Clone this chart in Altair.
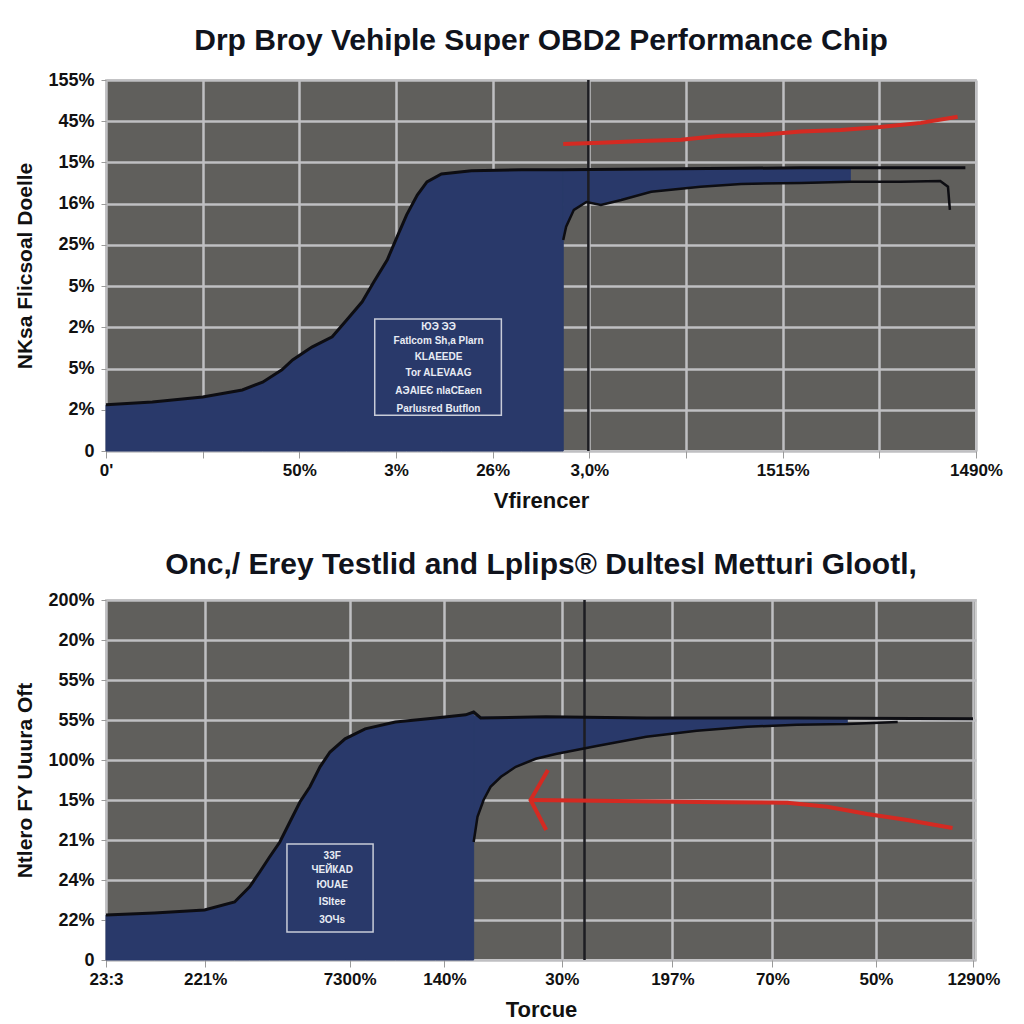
import json
import altair as alt
import pandas as pd

BLUE = "#29396a"
GREY = "#605f5c"
RED = "#d42a22"
GRID = "#bfbfc2"
FONT = "'Liberation Sans', Arial, sans-serif"

# ---------------- top panel data ----------------
top_title = "Drp Broy Vehiple Super OBD2 Performance Chip"
top_ytitle = "NKsa Flicsoal Doelle"
top_xtitle = "Vfirencer"
top_ylabels = ["0", "2%", "5%", "2%", "5%", "25%", "16%", "15%", "45%", "155%"]
top_xvals = [0, 1, 2, 3, 4, 5, 6, 7, 8, 9]
top_xlabels = ["0'", "", "50%", "3%", "26%", "3,0%", "", "1515%", "", "1490%"]

top_up_x = [0, 0.48, 1.0, 1.41, 1.62, 1.82, 1.93, 2.13, 2.34, 2.49, 2.65, 2.77, 2.91,
            3.01, 3.11, 3.22, 3.32, 3.47, 3.78, 4.3, 4.71, 5.64, 7.19, 8.89]
top_up_y = [1.12, 1.19, 1.31, 1.48, 1.67, 1.97, 2.21, 2.52, 2.77, 3.18, 3.62, 4.10, 4.64,
            5.19, 5.73, 6.21, 6.53, 6.72, 6.80, 6.82, 6.82, 6.84, 6.87, 6.87]
top_lo_x = [4.73, 4.76, 4.84, 4.97, 5.12, 5.33, 5.64, 6.15, 6.57, 7.19, 7.70, 8.22, 8.63, 8.71, 8.73]
top_lo_y = [5.12, 5.44, 5.85, 6.04, 5.97, 6.09, 6.29, 6.41, 6.48, 6.50, 6.53, 6.53, 6.55, 6.41, 5.85]
top_band_hi = [6.82, 6.82, 6.83, 6.83, 6.83, 6.83, 6.84, 6.85, 6.85, 6.86, 6.86]
top_red_x = [4.73, 5.12, 5.54, 5.95, 6.15, 6.36, 6.77, 7.19, 7.60, 8.01, 8.43, 8.81]
top_red_y = [7.45, 7.48, 7.52, 7.55, 7.60, 7.65, 7.67, 7.75, 7.79, 7.86, 7.96, 8.11]
top_vline = 4.99
top_box = [2.78, 4.09, 3.2, 0.87]
top_leg_text = ["ЮЭ ЭЭ", "Fatlcom Sh,a Plarn", "KLAEEDE", "Tor ALEVAAG", "AЭAIEЄ nlaCEaen", "Parlusred Butflon"]
top_leg_y = [3.01, 2.67, 2.28, 1.89, 1.46, 1.02]
top_leg_x = 3.44

# ---------------- bottom panel data ----------------
bot_title = "Onc,/ Erey Testlid and Lplips® Dultesl Metturi Glootl,"
bot_ytitle = "Ntlero FY Uuura Oft"
bot_xtitle = "Torcue"
bot_ylabels = ["0", "22%", "24%", "21%", "15%", "100%", "55%", "55%", "20%", "200%"]
bot_xvals = [0, 11.4, 28.0, 38.9, 52.4, 65.1, 76.6, 88.5, 99.7]
bot_xlabels = ["23:3", "221%", "7300%", "140%", "30%", "197%", "70%", "50%", "1290%"]

bot_up_x = [0, 5.54, 11.32, 14.78, 16.51, 17.67, 18.82, 19.98, 21.13, 22.29, 23.44, 24.6,
            25.75, 27.48, 29.79, 33.26, 37.88, 41.34, 42.26, 43.07, 50.58, 62.12, 79.45, 99.65]
bot_up_y = [1.125, 1.175, 1.25, 1.45, 1.83, 2.2, 2.58, 2.95, 3.45, 3.95, 4.33, 4.83,
            5.2, 5.53, 5.78, 5.95, 6.05, 6.13, 6.2, 6.05, 6.08, 6.05, 6.05, 6.03]
bot_lo_x = [42.26, 42.7, 43.4, 44.2, 45.4, 47.1, 49.4, 51.7, 56.4, 62.1, 67.9, 73.7, 79.4, 85.2, 91.0]
bot_lo_y = [2.95, 3.58, 4.0, 4.33, 4.58, 4.83, 5.03, 5.15, 5.35, 5.58, 5.73, 5.83, 5.88, 5.9, 5.95]
bot_band_hi = [6.1, 6.08, 6.07, 6.07, 6.07, 6.07, 6.07, 6.08, 6.07, 6.05, 6.05, 6.05, 6.05, 6.05]
bot_red_x = [48.8, 56.4, 67.9, 78.3, 82.9, 87.5, 92.1, 97.3]
bot_red_y = [4.0, 3.98, 3.95, 3.93, 3.83, 3.65, 3.5, 3.3]
bot_head_x = [50.8, 48.8, 50.6]
bot_head_y = [4.75, 4.0, 3.25]
bot_vline = 55.0
bot_box = [20.8, 30.7, 2.9, 0.7]
bot_leg_text = ["33F", "ЧЕЙКАD", "ЮUAE", "ISltee", "3OЧs"]
bot_leg_y = [2.6, 2.25, 1.88, 1.45, 1.0]
bot_leg_x = 26.0


def panel(title, ytitle, xtitle, ylabels, xvals, xlabels, xdom,
          up_x, up_y, lo_x, lo_y, band_hi, red_x, red_y, head_x, head_y,
          vline, box, leg_text, leg_y, leg_x, width, height, title_offset):
    xs = alt.Scale(domain=xdom, nice=False, zero=False)
    ys = alt.Scale(domain=[0, 9], nice=False, zero=False)
    xexpr = "%s[indexof(%s, datum.value)]" % (json.dumps(xlabels), json.dumps(xvals))
    yexpr = "%s[datum.value]" % json.dumps(ylabels)
    xaxis = alt.Axis(values=xvals, labelExpr=xexpr, title=xtitle, grid=True,
                     gridColor=GRID, gridWidth=2.5, domain=False,
                     tickColor="#9a9a9a", tickSize=7, labelPadding=4,
                     labelFont=FONT, labelFontSize=17, labelFontWeight="bold",
                     labelColor="#111", labelAngle=0, labelFlush=False,
                     titleFont=FONT, titleFontSize=22, titleFontWeight="bold",
                     titleColor="#111", titlePadding=12)
    yaxis = alt.Axis(values=list(range(10)), labelExpr=yexpr, title=ytitle, grid=True,
                     gridColor=GRID, gridWidth=2.5, domain=False,
                     tickColor="#9a9a9a", tickSize=5, labelPadding=7,
                     labelFont=FONT, labelFontSize=18, labelFontWeight="bold",
                     labelColor="#111", titleFont=FONT, titleFontSize=21,
                     titleFontWeight="bold", titleColor="#111", titlePadding=12)

    keep = [i for i, v in enumerate(up_x) if v < lo_x[0]]
    dA = pd.DataFrame({"x": [up_x[i] for i in keep] + [lo_x[0]],
                       "y": [up_y[i] for i in keep] + [up_y[keep[-1] + 1] if up_x[keep[-1] + 1] == lo_x[0] else up_y[keep[-1]]]})
    n = len(band_hi)
    dB = pd.DataFrame({"x": lo_x[:n], "hi": band_hi, "lo": lo_y[:n]})
    dU = pd.DataFrame({"x": up_x, "y": up_y})
    dL = pd.DataFrame({"x": lo_x, "y": lo_y, "o": list(range(len(lo_x)))})
    red_rows = [{"x": a, "y": b, "s": "shaft", "o": i} for i, (a, b) in enumerate(zip(red_x, red_y))]
    red_rows += [{"x": a, "y": b, "s": "head", "o": i} for i, (a, b) in enumerate(zip(head_x, head_y))]
    dR = pd.DataFrame(red_rows)
    dV = pd.DataFrame({"x": [vline]})
    dBox = pd.DataFrame({"x": [box[0]], "x2": [box[1]], "y": [box[2]], "y2": [box[3]]})
    dT = pd.DataFrame({"x": [leg_x] * len(leg_text), "y": leg_y, "t": leg_text})

    X = lambda f="x": alt.X(f + ":Q", scale=xs, axis=xaxis)
    Y = lambda f="y": alt.Y(f + ":Q", scale=ys, axis=yaxis, stack=None)

    areaA = alt.Chart(dA).mark_area(color=BLUE, opacity=1, stroke=BLUE, strokeWidth=1).encode(x=X(), y=Y())
    areaB = alt.Chart(dB).mark_area(color=BLUE, opacity=1, stroke=BLUE, strokeWidth=1).encode(
        x=X(), y=Y("hi"), y2=alt.Y2("lo:Q"))
    vrule = alt.Chart(dV).mark_rule(color="#1d1d22", strokeWidth=2.5).encode(x=X())
    lineU = alt.Chart(dU).mark_line(color="#0d0d12", strokeWidth=3).encode(x=X(), y=Y())
    lineL = alt.Chart(dL).mark_line(color="#0d0d12", strokeWidth=2.5).encode(
        x=X(), y=Y(), order="o:Q")
    red = alt.Chart(dR).mark_line(color=RED, strokeWidth=4).encode(
        x=X(), y=Y(), detail="s:N", order="o:Q")
    boxm = alt.Chart(dBox).mark_rect(fill=BLUE, stroke="#c8ccd8", strokeWidth=1.5).encode(
        x=X(), x2="x2:Q", y=Y(), y2="y2:Q")
    txt = alt.Chart(dT).mark_text(color="#e8ecf4", fontSize=10, fontWeight="bold",
                                  font=FONT, align="center", baseline="middle").encode(
        x=X(), y=Y(), text="t:N")

    return alt.layer(areaA, areaB, vrule, lineU, lineL, red, boxm, txt).properties(
        width=width, height=height,
        title=alt.TitleParams(title, font=FONT, fontSize=30, fontWeight="bold",
                              color="#10131c", offset=title_offset, anchor="middle"))


top = panel(top_title, top_ytitle, top_xtitle, top_ylabels, top_xvals, top_xlabels, [0, 9],
            top_up_x, top_up_y, top_lo_x, top_lo_y, top_band_hi, top_red_x, top_red_y,
            [], [], top_vline, top_box, top_leg_text, top_leg_y, top_leg_x, 870, 371, 15)
bot = panel(bot_title, bot_ytitle, bot_xtitle, bot_ylabels, bot_xvals, bot_xlabels, [0, 100],
            bot_up_x, bot_up_y, bot_lo_x, bot_lo_y, bot_band_hi, bot_red_x, bot_red_y,
            bot_head_x, bot_head_y, bot_vline, bot_box, bot_leg_text, bot_leg_y, bot_leg_x,
            870, 360, 11)

chart = alt.vconcat(top, bot, spacing=149, bounds="flush").properties(
    padding={"top": 17, "left": 5, "right": 5, "bottom": 0},
    background="white",
).configure_view(fill=GREY, stroke="#cfcfcf", strokeWidth=2)

chart.save("out.html", embed_options={"renderer": "svg", "actions": False})
